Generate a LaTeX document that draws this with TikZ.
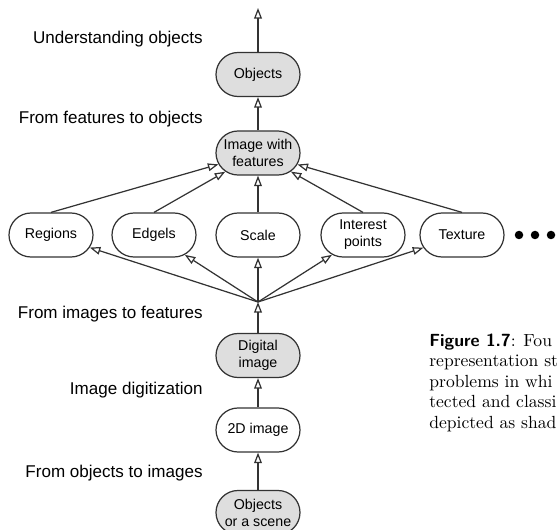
\documentclass[tikz,border=0pt]{standalone}
\usepackage{fontspec}
\newfontfamily\arialfont{Liberation Sans}
\usepackage{tikz}
\usetikzlibrary{shapes.misc,arrows.meta}
\definecolor{shadegray}{gray}{0.87}
\definecolor{linegray}{gray}{0.2}

\begin{document}
\begin{tikzpicture}
\tikzstyle{stage}=[rounded rectangle, minimum width=1.68cm, minimum height=0.88cm, inner sep=0pt, line width=0.7pt, draw=linegray, fill=white]
\tikzstyle{shaded}=[stage, fill=shadegray]
\tikzstyle{stagetext}=[inner sep=0pt, align=center, font=\arialfont\fontsize{8.1}{9.7}\selectfont]
\tikzstyle{levelname}=[anchor=east, inner sep=0pt, font=\arialfont\fontsize{9.7}{11}\selectfont]
\tikzstyle{connect}=[-{Triangle[open,length=6pt,width=4.4pt]}, line width=0.7pt, linegray]
\tikzstyle{more}=[circle, fill=black, inner sep=0pt, minimum size=1.7mm]
\tikzstyle{captext}=[anchor=base west, inner sep=0pt, align=left, font=\fontsize{10}{11.7}\selectfont]

\useasboundingbox (0,0) rectangle (11.14,-10.6);

	\coordinate (top) at (5.16,-0.16);
	\node[shaded] (objs) at (5.16,-1.49) [label={[stagetext]center:Objects}]{};
	\node[shaded] (imgfeat) at (5.16,-3.06) [label={[stagetext]center:Image with\\features}]{};
	\node[stage] (regions) at (1.02,-4.70) [label={[stagetext]center:Regions}]{};
	\node[stage] (edgels) at (3.08,-4.70) [label={[stagetext]center:Edgels}]{};
	\node[stage] (scale) at (5.16,-4.70) [label={[stagetext]center:Scale}]{};
	\node[stage] (interest) at (7.26,-4.70) [label={[stagetext]center:Interest\\points}]{};
	\node[stage] (texture) at (9.24,-4.70) [label={[stagetext]center:Texture}]{};
	\node[more] (dot_1) at (10.38,-4.70) {};
	\node[more] (dot_2) at (10.70,-4.70) {};
	\node[more] (dot_3) at (11.02,-4.70) {};
	\coordinate (conv) at (5.16,-6.04);
	\node[shaded] (digital) at (5.16,-7.11) [label={[stagetext]center:Digital\\image}]{};
	\node[stage] (twod) at (5.16,-8.60) [label={[stagetext]center:2D image}]{};
	\node[shaded] (scene) at (5.16,-10.25) [label={[stagetext]center:Objects\\or a scene}]{};

	\node[levelname] (l_1) at (4.06,-0.78) {Understanding objects};
	\node[levelname] (l_2) at (4.06,-2.38) {From features to objects};
	\node[levelname] (l_3) at (4.06,-6.28) {From images to features};
	\node[levelname] (l_4) at (4.06,-7.80) {Image digitization};
	\node[levelname] (l_5) at (4.06,-9.46) {From objects to images};

	\node[captext] (cap) at (8.58,-8.57) {{\sffamily\bfseries Figure 1.7}: Fou\\representation st\\problems in whi\\tected and classi\\depicted as shad};

	\draw[connect] (scene) -- (twod);
	\draw[connect] (twod) -- (digital);
	\draw[connect] (digital) -- (conv);
	\draw[connect] (conv) -- (regions);
	\draw[connect] (conv) -- (edgels);
	\draw[connect] (conv) -- (scale);
	\draw[connect] (conv) -- (interest);
	\draw[connect] (conv) -- (texture);
	\draw[connect] (regions.north) -- (imgfeat);
	\draw[connect] (edgels.north) -- (imgfeat);
	\draw[connect] (scale) -- (imgfeat);
	\draw[connect] (interest.north) -- (imgfeat);
	\draw[connect] (texture.north) -- (imgfeat);
	\draw[connect] (imgfeat) -- (objs);
	\draw[connect] (objs) -- (top);

\end{tikzpicture}
\end{document}
